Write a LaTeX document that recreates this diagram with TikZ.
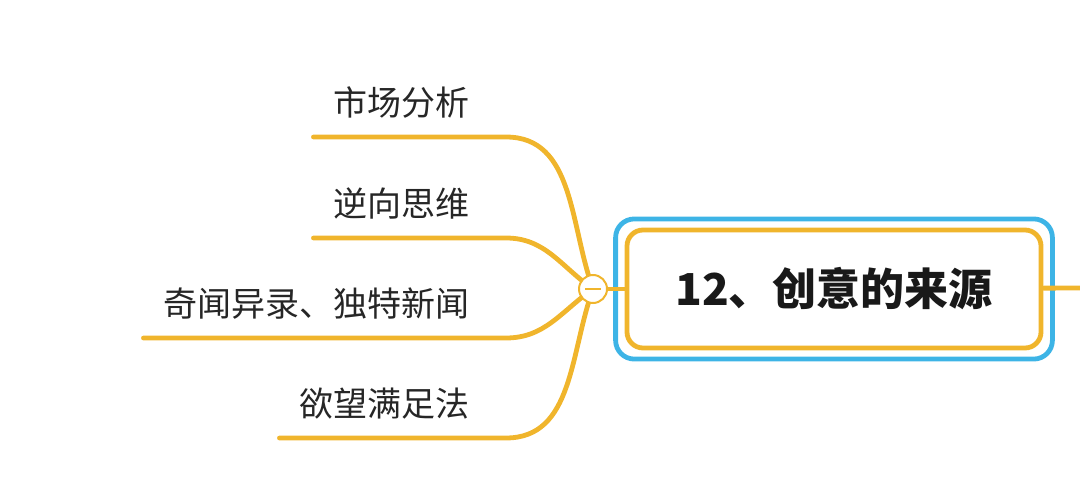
\documentclass[tikz,border=0pt]{standalone}
\usepackage{fontspec}
\usepackage{xcolor}
\usepackage{tikz}
\usetikzlibrary{shapes,positioning}
\newfontfamily\cjk{Noto Sans CJK SC}
\definecolor{gold}{HTML}{F0B52C}
\definecolor{sky}{HTML}{3DB4E6}
\tikzset{leaf/.style={anchor=south east,inner xsep=15pt,inner ysep=14pt,font=\cjk\fontsize{25.5}{30}\selectfont,text=black!85},
branch/.style={gold,line width=3.6pt,line cap=round}}

\begin{document}
\begin{tikzpicture}[x=0.75pt,y=-0.75pt]
    \useasboundingbox (0,0) rectangle (1080,488);
    \node[leaf] (ma) at (490,137) {市场分析};
    \node[leaf] (ni) at (490,238) {逆向思维};
    \node[leaf] (qi) at (490,338) {奇闻异录、独特新闻};
    \node[leaf] (yu) at (490,438) {欲望满足法};
    \node[draw=gold,line width=3.6pt,rounded corners=12pt,fill=white,minimum width=310.5pt,minimum height=88.5pt,font=\cjk\bfseries\fontsize{33}{40}\selectfont,text=black!90] (root) at (834,289) {12、创意的来源};
    \draw [sky,line width=3.6pt,rounded corners=14pt] ([shift={(-6.75pt,-6.5pt)}]root.south west) rectangle ([shift={(6.75pt,6.5pt)}]root.north east);
    \coordinate (next) at (1080,288);
    \coordinate (hub) at (593,289);

    \draw [branch] (hub) to [out=110,in=0] ([xshift=12pt]ma.south east) -- (ma.south west);
    \draw [branch] (hub) to [out=145,in=0] ([xshift=12pt]ni.south east) -- (ni.south west);
    \draw [branch] (hub) to [out=215,in=0] ([xshift=12pt]qi.south east) -- (qi.south west);
    \draw [branch] (hub) to [out=250,in=0] ([xshift=12pt]yu.south east) -- (yu.south west);
    \draw [branch] (hub) -- (root);
    \draw [branch] (root) -- (next);
    \node[circle,draw=gold,fill=white,line width=1.5pt,minimum size=21pt,inner sep=0pt] (fold) at (hub) {};
    \draw [gold,line width=1.5pt] ([xshift=-6pt]fold.center) -- ([xshift=6pt]fold.center);
\end{tikzpicture}
\end{document}
